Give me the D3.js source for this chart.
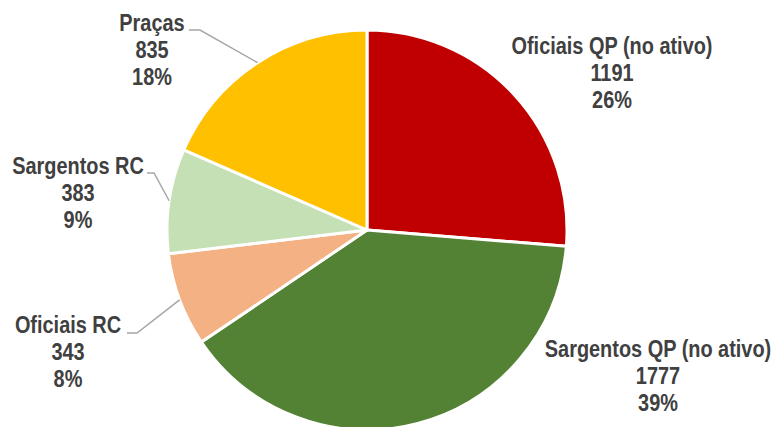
<!DOCTYPE html>
<html>
<head>
<meta charset="utf-8">
<script src="https://cdn.jsdelivr.net/npm/d3@7"></script>
<style>
  body { margin: 0; background: #fff; }
  .lbl { font-family: "Liberation Sans Narrow", "Arial Narrow", "Liberation Sans", Arial, sans-serif; font-weight: bold; font-size: 24px; fill: #404040; }
</style>
</head>
<body>
<div id="chart"></div>
<script>
const categories = ['Oficiais QP (no ativo)', 'Sargentos QP (no ativo)', 'Oficiais RC', 'Sargentos RC', 'Praças'];
const values = [1191, 1777, 343, 383, 835];
const percents = ['26%', '39%', '8%', '9%', '18%'];
const colors = ['#C00000', '#548235', '#F4B183', '#C5E0B4', '#FFC000'];

// label placement (middle line, relative to pie centre) and leader elbows
const labelPos = [[245, -157], [291, 146], [-299, 122], [-289, -37], [-215, -180]];
const leaders = [null, null, [[-240, 103], [-230, 103]], [[-220, -57], [-213, -57]], [[-178, -200], [-167, -200]]];

const config = {
  width: 773,
  height: 427,
  cx: 367,
  cy: 230,
  radius: 200,
  lineHeight: 27.5,
  squeeze: 0.83   // narrow face substitute
};

const svg = d3.select('#chart').append('svg')
    .attr('width', config.width)
    .attr('height', config.height);

const chart = svg.append('g')
    .attr('transform', `translate(${config.cx},${config.cy})`);

const data = categories.map((c, i) => ({name: c, value: values[i], pct: percents[i], color: colors[i], i}));

const pie = d3.pie().sort(null).value(d => d.value);
const arc = d3.arc().innerRadius(0).outerRadius(config.radius);
const arcs = pie(data);

chart.selectAll('path.slice')
  .data(arcs)
  .join('path')
    .attr('class', 'slice')
    .attr('d', arc)
    .attr('fill', d => d.data.color)
    .attr('stroke', '#fff')
    .attr('stroke-width', 3)
    .attr('stroke-linejoin', 'round');

// leader lines from label to slice edge at mid angle
arcs.forEach(d => {
  const l = leaders[d.data.i];
  if (!l) return;
  const a = (d.startAngle + d.endAngle) / 2;
  const edge = [Math.sin(a) * config.radius, -Math.cos(a) * config.radius];
  chart.append('polyline')
      .attr('points', [l[0], l[1], edge].map(p => p.join(',')).join(' '))
      .attr('fill', 'none')
      .attr('stroke', '#A6A6A6')
      .attr('stroke-width', 1.5);
});

const labels = chart.selectAll('text.lbl')
  .data(arcs)
  .join('text')
    .attr('class', 'lbl')
    .attr('text-anchor', 'middle')
    .attr('transform', d => `translate(${labelPos[d.data.i][0]},${labelPos[d.data.i][1]}) scale(${config.squeeze},1)`);

labels.each(function(d) {
  const t = d3.select(this);
  const lines = [d.data.name, d.data.value, d.data.pct];
  lines.forEach((s, k) => {
    t.append('tspan')
        .attr('x', 0)
        .attr('y', (k - 1) * config.lineHeight + 8)
        .text(s);
  });
});
</script>
</body>
</html>
